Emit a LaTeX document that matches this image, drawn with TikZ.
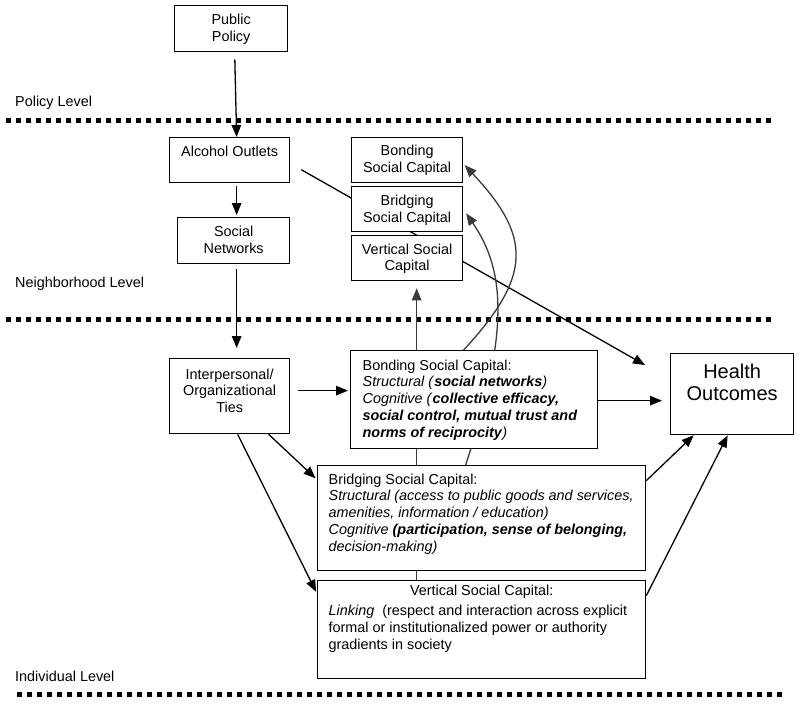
\documentclass[tikz,border=0pt]{standalone}
\usepackage{fontspec}
\setmainfont{Liberation Sans}
\usetikzlibrary{arrows.meta}
\pgfdeclarelayer{sep}
\pgfdeclarelayer{behind}
\pgfsetlayers{sep,behind,main}
\definecolor{dg}{HTML}{3A3A3A}
\newcommand{\cbox}[4]{\parbox[c][#2pt][t]{#1pt}{\centering\vspace*{#3pt}\strut#4}}
\newcommand{\lbox}[5]{\parbox[c][#2pt][t]{#1pt}{\vspace*{#3pt}\leftskip=#4pt\rightskip=0pt plus 1fil\relax\strut#5}}
\newcommand{\bi}[1]{\textbf{\textit{#1}}}
\tikzset{
  bx/.style={draw, line width=1.3pt, fill=white, inner sep=0pt, anchor=north west,
             font=\fontsize{14.4}{16.7}\selectfont},
  lvl/.style={anchor=base west, inner sep=0pt, font=\fontsize{14.4}{16.7}\selectfont},
  arr/.style={line width=1.3pt, -{Triangle[length=12pt,width=9.5pt]}},
  garr/.style={line width=1.3pt, draw=dg, -{Triangle[length=12pt,width=9.5pt]}, dg},
  dots/.style={line width=5pt, dash pattern=on 5pt off 5pt}
}
\begin{document}
\begin{tikzpicture}[x=1pt,y=-1pt]
\useasboundingbox (0,0) rectangle (800,706);
% level separators
\begin{pgfonlayer}{sep}
\draw[dots] (6,121) -- (771,121);
\draw[dots] (6,319) -- (771,319);
\draw[dots] (17,694) -- (782,694);
\end{pgfonlayer}
\node[lvl] (l1) at (15,107) {Policy Level};
\node[lvl] (l2) at (15,287) {Neighborhood Level};
\node[lvl] (l3) at (15,681) {Individual Level};
\coordinate (hoEnd) at (645,365);
% boxes
\node[bx] (pp) at (174,5) {\cbox{113}{46}{7.6}{Public\\Policy}};
\node[bx] (ao) at (169,137) {\cbox{120}{45}{7.3}{Alcohol Outlets}};
\node[bx] (sn) at (177,217) {\cbox{112}{46}{7.3}{Social\\Networks}};
\node[bx] (ip) at (169,358) {\cbox{120}{75}{8.9}{Interpersonal/\\Organizational\\Ties}};
\node[bx] (bos) at (351,137) {\cbox{111}{45}{6.6}{Bonding\\Social Capital}};
\node[bx] (brs) at (351,186) {\cbox{111}{45}{7.6}{Bridging\\Social Capital}};
\node[bx] (vs) at (351,235) {\cbox{111}{45}{6.9}{Vertical Social\\Capital}};
\node[bx] (bob) at (350,350) {\lbox{247}{98}{7.9}{12}{Bonding Social Capital:\\ \textit{Structural (}\bi{social networks}\textit{)}\\ \textit{Cognitive (}\bi{collective efficacy,}\\ \bi{social control, mutual trust and}\\ \bi{norms of reciprocity}\textit{)}}};
\node[bx] (brb) at (317,465) {\lbox{328}{105}{6.9}{11}{Bridging Social Capital:\\ \textit{Structural (access to public goods and services,}\\ \textit{amenities, information / education)}\\ \textit{Cognitive }\bi{(participation, sense of belonging,}\\ \textit{decision-making)}}};
\node[bx] (vb) at (317,580) {\parbox[c][98pt][t]{328pt}{\vspace*{3.6pt}{\centering\strut Vertical Social Capital:\par}\vspace{3pt}\leftskip=11pt\rightskip=0pt plus 1fil\relax\strut\textit{Linking}\ \ (respect and interaction across explicit\\ formal or institutionalized power or authority\\ gradients in society}};
\node[bx, font=\fontsize{20}{22.7}\selectfont] (ho) at (670,353) {\cbox{123}{81}{8.7}{Health\\Outcomes}};
% connectors passing behind boxes
\begin{pgfonlayer}{behind}
\draw[arr, shorten <=12.6pt] ([yshift=-3.3pt]ao.east) -- (hoEnd);
\draw[garr, shorten >=7pt] ([xshift=-65pt]vb.north) -- ([xshift=9.5pt]vs.south);
\draw[garr, shorten >=5pt] ([xshift=-16pt]brb.north) .. controls (510,330) and (505,270) .. (brs.east);
\draw[garr, shorten >=2pt] ([xshift=-10.5pt]bob.north) .. controls (532,276) and (532,237) .. ([yshift=-3.5pt]bos.east);
\end{pgfonlayer}
% connectors
\draw[arr, shorten <=7pt] ([xshift=3.5pt]pp.south) -- ([xshift=7pt]ao.north);
\draw[arr, shorten <=3pt, shorten >=2pt] ([xshift=7pt]ao.south) -- ([xshift=3pt]sn.north);
\draw[arr, shorten <=5pt, shorten >=10pt] ([xshift=3pt]sn.south) -- ([xshift=7pt]ip.north);
\draw[arr, shorten <=8pt, shorten >=2pt] ([yshift=5.5pt]ip.east) -- ([yshift=9pt]bob.west);
\draw[arr, shorten >=2pt] ([xshift=39pt]ip.south) -- ([yshift=38.5pt]brb.west);
\draw[arr, shorten >=2pt] ([xshift=8pt]ip.south) -- ([yshift=36pt]vb.west);
\draw[arr, shorten >=8pt] ([yshift=-1pt]bob.east) -- ([yshift=-6.5pt]ho.west);
\draw[arr] ([yshift=37.5pt]brb.east) -- ([xshift=-38.5pt]ho.south);
\draw[arr] ([yshift=34pt]vb.east) -- ([xshift=-4.5pt]ho.south);
\end{tikzpicture}
\end{document}
